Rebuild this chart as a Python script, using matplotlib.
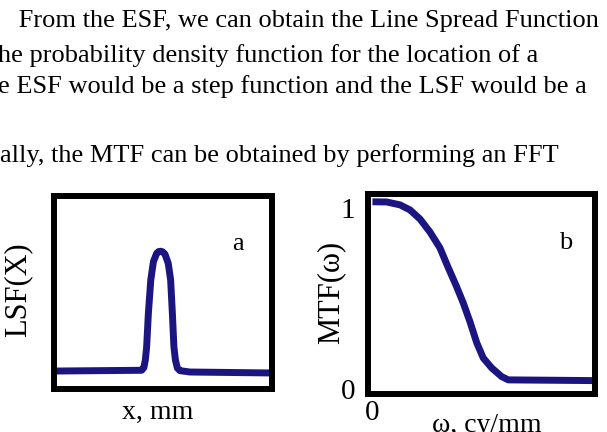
import matplotlib
matplotlib.use("Agg")
import matplotlib.pyplot as plt

plt.rcParams['font.family'] = ['Liberation Serif', 'DejaVu Serif']

# ---- data ----
text_lines = [
    " From the ESF, we can obtain the Line Spread Function",
    "he probability density function for the location of a",
    "e ESF would be a step function and the LSF would be a",
    "ally, the MTF can be obtained by performing an FFT",
]

lsf_x = [0.0, 0.402, 0.412, 0.419, 0.425, 0.433, 0.444, 0.456, 0.471, 0.480,
         0.489, 0.498, 0.509, 0.524, 0.535, 0.543, 0.550, 0.557, 0.566, 0.578,
         0.624, 1.0]
lsf_y = [0.093, 0.097, 0.110, 0.150, 0.219, 0.394, 0.565, 0.660, 0.703, 0.712,
         0.714, 0.711, 0.699, 0.651, 0.565, 0.392, 0.219, 0.150, 0.108, 0.095,
         0.088, 0.083]

mtf_w = [0.0, 0.064, 0.124, 0.169, 0.214, 0.259, 0.304, 0.340, 0.379,
         0.409, 0.439, 0.470, 0.499, 0.537, 0.582, 0.612, 1.0]
mtf_v = [1.034, 1.033, 1.017, 0.989, 0.939, 0.867, 0.779, 0.674, 0.565,
         0.475, 0.372, 0.254, 0.171, 0.116, 0.068, 0.050, 0.046]

mtf_yticks = [0, 1]
mtf_ytick_labels = ["0", "1"]
mtf_xticks = [0]
mtf_xtick_labels = ["0"]

W, H = 607, 432
fig = plt.figure(figsize=(W / 100, H / 100), dpi=100)

# ---- top text ----
txt_x = [12, -2, -2, 0]
txt_base = [27, 62, 93, 162]
for s, x, y in zip(text_lines, txt_x, txt_base):
    fig.text(x / W, 1 - y / H, s, fontsize=19, va='baseline', ha='left',
             color='black')

line_color = '#1b1582'
frame_lw = 4.3
curve_lw = 5.0
fs = 19
fs_ylab = 22

def px_axes(x0, x1, ytop, ybot):
    return fig.add_axes([x0 / W, 1 - ybot / H, (x1 - x0) / W, (ybot - ytop) / H])

# ---- panel a ----
axa = px_axes(54, 272, 196, 389)
axa.plot(lsf_x, lsf_y, color=line_color, lw=curve_lw, solid_capstyle='butt',
         solid_joinstyle='round')
axa.set_xlim(0, 1)
axa.set_ylim(0, 1)
axa.set_xticks([])
axa.set_yticks([])
for sp in axa.spines.values():
    sp.set_linewidth(frame_lw)
    sp.set_color('black')
axa.set_ylabel("LSF(X)", fontsize=fs_ylab)
axa.yaxis.set_label_coords(-0.101, 0.513)
axa.set_xlabel("x, mm", fontsize=fs + 1)
axa.xaxis.set_label_coords(0.477, -0.055)
axa.text(0.845, 0.752, "a", transform=axa.transAxes, fontsize=fs,
         ha='center', va='center')

# ---- panel b ----
axb = px_axes(368, 594.5, 194, 394)
axb.plot(mtf_w, mtf_v, color=line_color, lw=curve_lw, solid_capstyle='butt',
         solid_joinstyle='round')
axb.set_xlim(-0.02, 1.0)
axb.set_ylim(-0.028, 1.077)
axb.set_yticks(mtf_yticks)
axb.set_yticklabels(mtf_ytick_labels, fontsize=fs + 2)
axb.set_xticks(mtf_xticks)
axb.set_xticklabels(mtf_xtick_labels, fontsize=fs + 2)
axb.tick_params(axis='both', length=0)
axb.tick_params(axis='y', pad=9)
axb.tick_params(axis='x', pad=4)
for sp in axb.spines.values():
    sp.set_linewidth(frame_lw)
    sp.set_color('black')
axb.set_ylabel("MTF(\u03c9)", fontsize=fs_ylab)
axb.yaxis.set_label_coords(-0.1015, 0.51)
axb.set_xlabel("\u03c9, cy/mm", fontsize=fs + 1)
axb.xaxis.set_label_coords(0.525, -0.095)
axb.text(0.873, 0.755, "b", transform=axb.transAxes, fontsize=fs,
         ha='center', va='center')

fig.savefig("out.png", dpi=100)
